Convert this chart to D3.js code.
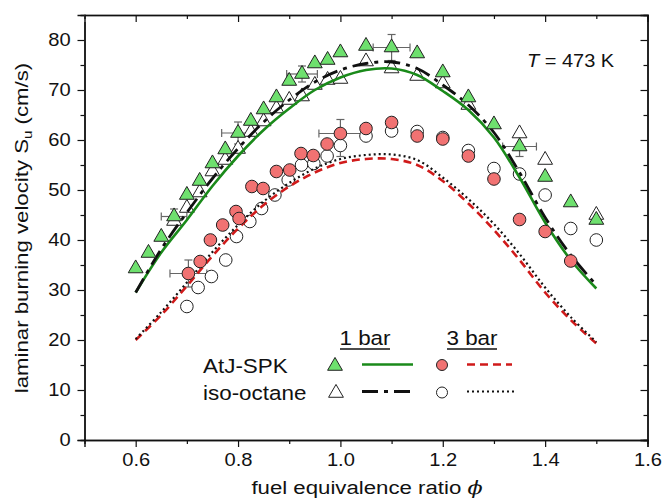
<!DOCTYPE html>
<html><head><meta charset="utf-8">
<script src="https://cdn.jsdelivr.net/npm/d3@7"></script>
<style>
html,body{margin:0;padding:0;background:#fff;}
text{font-family:"Liberation Sans",Arial,sans-serif;fill:#111;}
</style></head>
<body><svg id="chart" width="665" height="498"></svg>
<script>
// ---------- data ----------
const xTicks = [0.6, 0.8, 1.0, 1.2, 1.4, 1.6];
const xMinor = [0.7, 0.9, 1.1, 1.3, 1.5];
const yTicks = [0, 10, 20, 30, 40, 50, 60, 70, 80];
const yMinor = [5, 15, 25, 35, 45, 55, 65, 75];

// AtJ-SPK, 1 bar (filled green triangles)
const atj1Phi = [0.6, 0.625, 0.65, 0.675, 0.7, 0.725, 0.75, 0.775, 0.8, 0.825, 0.85, 0.875, 0.9, 0.925, 0.95, 0.975, 1.0, 1.05, 1.1, 1.15, 1.2, 1.25, 1.3, 1.35, 1.4, 1.45, 1.5];
const atj1Su  = [34.3, 37.4, 40.6, 44.7, 49.0, 51.8, 55.3, 58.1, 61.4, 63.8, 66.1, 68.5, 71.8, 73.2, 75.3, 76.0, 77.5, 78.8, 78.5, 77.3, 73.5, 68.5, 63.1, 58.7, 52.6, 47.5, 44.0];
// iso-octane, 1 bar (open triangles)
const iso1Phi = [0.675, 0.7, 0.725, 0.75, 0.775, 0.8, 0.825, 0.85, 0.875, 0.9, 0.925, 0.95, 0.975, 1.0, 1.05, 1.1, 1.15, 1.2, 1.25, 1.35, 1.4, 1.5];
const iso1Su  = [43.8, 46.4, 49.5, 53.7, 56.0, 58.2, 61.6, 63.7, 66.3, 68.0, 68.7, 71.0, 72.0, 72.2, 75.7, 74.3, 72.8, 71.3, 67.0, 61.3, 56.0, 45.0];
// AtJ-SPK, 3 bar (filled red circles)
const atj3Phi = [0.703, 0.726, 0.746, 0.77, 0.796, 0.802, 0.827, 0.849, 0.875, 0.901, 0.923, 0.947, 0.974, 1.0, 1.05, 1.1, 1.15, 1.2, 1.25, 1.3, 1.35, 1.4, 1.45];
const atj3Su  = [33.3, 35.7, 40.0, 43.0, 45.7, 44.3, 50.7, 50.3, 53.7, 54.0, 57.3, 56.9, 59.2, 61.3, 62.3, 63.5, 60.8, 60.2, 56.8, 52.2, 44.1, 41.7, 35.8];
// iso-octane, 3 bar (open circles)
const iso3Phi = [0.7, 0.722, 0.748, 0.776, 0.797, 0.823, 0.846, 0.872, 0.898, 0.924, 0.948, 0.974, 1.0, 1.05, 1.1, 1.15, 1.2, 1.25, 1.3, 1.35, 1.4, 1.45, 1.5];
const iso3Su  = [26.7, 30.5, 32.7, 36.0, 40.7, 43.7, 46.3, 49.0, 52.0, 55.0, 55.3, 56.8, 58.9, 60.8, 61.8, 61.7, 60.5, 57.9, 54.3, 53.2, 49.0, 42.3, 40.0];

// model curves
const modelPhi   = [0.6, 0.65, 0.7, 0.75, 0.8, 0.85, 0.9, 0.95, 1.0, 1.05, 1.1, 1.15, 1.2, 1.25, 1.3, 1.35, 1.4, 1.45, 1.5];
const atj1Model  = [29.5, 37.5, 44.0, 50.8, 56.8, 62.0, 66.3, 70.0, 72.5, 74.0, 74.3, 73.0, 69.8, 66.0, 60.5, 52.5, 43.5, 36.0, 30.3];
const iso1Model  = [29.5, 38.2, 45.5, 52.3, 58.3, 63.6, 68.0, 71.6, 74.0, 75.3, 75.6, 74.3, 71.0, 67.0, 61.5, 53.5, 44.5, 37.0, 31.0];
const atj3Model  = [20.0, 25.0, 30.8, 36.8, 42.3, 47.0, 50.7, 53.5, 55.4, 56.2, 56.2, 55.0, 51.8, 47.3, 42.0, 36.0, 29.5, 24.0, 19.3];
const iso3Model  = [20.2, 25.6, 31.5, 37.6, 43.0, 47.7, 51.4, 54.3, 56.2, 57.0, 57.1, 56.0, 52.5, 48.2, 43.2, 37.2, 30.5, 24.6, 19.6];

// error bars
const errPhi = [0.675, 0.8, 0.925, 1.1, 1.35, 0.703, 1.0, 1.0];
const errSu  = [44.7, 61.4, 73.2, 78.5, 58.7, 33.3, 61.3, 58.9];
const errDx  = [0.025, 0.032, 0.03, 0.036, 0.033, 0.036, 0.042, 0];
const errDy  = [1.5, 2.2, 1.6, 2.6, 2.0, 2.7, 2.8, 2.2];

const legendRows = ["AtJ-SPK", "iso-octane"];
const legendCols = ["1 bar", "3 bar"];

// ---------- drawing ----------
const svg = d3.select("#chart");
const x = d3.scaleLinear([0.5, 1.6], [84.5, 647.5]);
const y = d3.scaleLinear([0, 85], [440, 15]);

const C = {
  triFill: "#6ee06e", circFill: "#f17272",
  green: "#1a8a1a", red: "#d01a1a", black: "#111"
};
const SX = 1.15;

function label(g, px, py, str, size, anchor, sx) {
  return g.append("text")
    .attr("transform", `translate(${px},${py}) scale(${sx || SX},1)`)
    .attr("text-anchor", anchor || "start")
    .attr("font-size", size)
    .text(str);
}

// axes
const fmt = d3.format(".1f");
const gB = svg.append("g").attr("transform", "translate(0,440)")
  .call(d3.axisBottom(x).tickValues(xTicks).tickSize(7).tickPadding(7).tickFormat(fmt));
svg.append("g").attr("transform", "translate(0,440)")
  .call(d3.axisBottom(x).tickValues(xMinor).tickSize(4).tickFormat(""));
const gL = svg.append("g").attr("transform", "translate(84.5,0)")
  .call(d3.axisLeft(y).tickValues(yTicks).tickSize(7).tickPadding(5).tickFormat(d3.format("d")));
svg.append("g").attr("transform", "translate(84.5,0)")
  .call(d3.axisLeft(y).tickValues(yMinor).tickSize(4).tickFormat(""));
const gT = svg.append("g").attr("transform", "translate(0,15)")
  .call(d3.axisTop(x).tickValues(xTicks).tickSize(-7).tickFormat(""));
svg.append("g").attr("transform", "translate(0,15)")
  .call(d3.axisTop(x).tickValues(xMinor).tickSize(-4).tickFormat(""));
const gR = svg.append("g").attr("transform", "translate(647.5,0)")
  .call(d3.axisRight(y).tickValues(yTicks).tickSize(-7).tickFormat(""));
svg.append("g").attr("transform", "translate(647.5,0)")
  .call(d3.axisRight(y).tickValues(yMinor).tickSize(-4).tickFormat(""));

svg.selectAll(".domain").attr("stroke", "#111").attr("stroke-width", 1.4);
svg.selectAll(".tick line").attr("stroke", "#111").attr("stroke-width", 1.2);
gT.select(".domain").attr("stroke", "#666");
svg.selectAll(".tick text").attr("font-size", 17.5).attr("font-family", "Liberation Sans, Arial, sans-serif").attr("fill", "#111");
gB.selectAll(".tick text").attr("transform", `scale(${SX},1)`);
gL.selectAll(".tick text").attr("transform", `scale(${SX},1)`);

// axis titles
const xt = svg.append("text")
  .attr("transform", `translate(367,494) scale(1.17,1)`)
  .attr("text-anchor", "middle").attr("font-size", 19);
xt.append("tspan").text("fuel equivalence ratio ");
xt.append("tspan").attr("font-style", "italic").attr("font-family", "DejaVu Serif, serif").text("\u03D5");

const yt = svg.append("text")
  .attr("transform", `translate(28,228) rotate(-90) scale(1.17,1)`)
  .attr("text-anchor", "middle").attr("font-size", 19);
yt.append("tspan").text("laminar burning velocity S");
yt.append("tspan").attr("font-size", 13).attr("dy", 4).text("u");
yt.append("tspan").attr("dy", -4).text(" (cm/s)");

// annotation
const tt = svg.append("text")
  .attr("transform", `translate(527,66.5) scale(1.08,1)`)
  .attr("font-size", 18.5);
tt.append("tspan").attr("font-style", "italic").text("T");
tt.append("tspan").text(" = 473 K");

// markers helpers
const tri = d3.symbol(d3.symbolTriangle, 95);
function drawTris(data, fill) {
  svg.append("g").selectAll("path").data(data).join("path")
    .attr("transform", d => `translate(${x(d[0])},${y(d[1])})`)
    .attr("d", tri).attr("fill", fill).attr("stroke", "#222").attr("stroke-width", 1);
}
function drawCircs(data, fill) {
  svg.append("g").selectAll("circle").data(data).join("circle")
    .attr("cx", d => x(d[0])).attr("cy", d => y(d[1])).attr("r", 6.3)
    .attr("fill", fill).attr("stroke", "#222").attr("stroke-width", 1);
}
const zip = (a, b) => a.map((v, i) => [v, b[i]]);

// error bars
const eb = svg.append("g").attr("stroke", "#666").attr("stroke-width", 1.2).attr("fill", "none");
errPhi.forEach((p, i) => {
  const cx = x(p), cy = y(errSu[i]);
  if (errDx[i] > 0) {
    const x0 = x(p - errDx[i]), x1 = x(p + errDx[i]);
    eb.append("line").attr("x1", x0).attr("x2", x1).attr("y1", cy).attr("y2", cy);
    eb.append("line").attr("x1", x0).attr("x2", x0).attr("y1", cy - 4).attr("y2", cy + 4);
    eb.append("line").attr("x1", x1).attr("x2", x1).attr("y1", cy - 4).attr("y2", cy + 4);
  }
  const y0 = y(errSu[i] + errDy[i]), y1 = y(errSu[i] - errDy[i]);
  eb.append("line").attr("x1", cx).attr("x2", cx).attr("y1", y0).attr("y2", y1);
  eb.append("line").attr("x1", cx - 4).attr("x2", cx + 4).attr("y1", y0).attr("y2", y0);
  eb.append("line").attr("x1", cx - 4).attr("x2", cx + 4).attr("y1", y1).attr("y2", y1);
});

// open markers
drawTris(zip(iso1Phi, iso1Su), "#fff");
drawCircs(zip(iso3Phi, iso3Su), "#fff");

// model lines
const line = d3.line().x(d => x(d[0])).y(d => y(d[1])).curve(d3.curveCatmullRom.alpha(0.5));
const styles = [
  { data: atj3Model, stroke: C.red, w: 2.6, dash: "8,5" },
  { data: iso3Model, stroke: C.black, w: 2.2, dash: "2,3" },
  { data: atj1Model, stroke: C.green, w: 2.6, dash: null },
  { data: iso1Model, stroke: C.black, w: 2.8, dash: "16,6,4,6" }
];
styles.forEach(s => {
  svg.append("path").attr("d", line(zip(modelPhi, s.data)))
    .attr("fill", "none").attr("stroke", s.stroke).attr("stroke-width", s.w)
    .attr("stroke-dasharray", s.dash);
});

// filled markers
drawTris(zip(atj1Phi, atj1Su), C.triFill);
drawCircs(zip(atj3Phi, atj3Su), C.circFill);

// legend
const lg = svg.append("g");
label(lg, 365, 345, legendCols[0], 19.5, "middle");
label(lg, 472, 345, legendCols[1], 19.5, "middle");
lg.append("line").attr("x1", 340).attr("x2", 390).attr("y1", 349).attr("y2", 349).attr("stroke", "#111").attr("stroke-width", 1.3);
lg.append("line").attr("x1", 447).attr("x2", 497).attr("y1", 349).attr("y2", 349).attr("stroke", "#111").attr("stroke-width", 1.3);
label(lg, 203, 373, legendRows[0], 19.5, "start");
label(lg, 203, 400, legendRows[1], 19.5, "start");
lg.append("path").attr("transform", "translate(335,366)").attr("d", tri).attr("fill", C.triFill).attr("stroke", "#222");
lg.append("path").attr("transform", "translate(336,393)").attr("d", tri).attr("fill", "#fff").attr("stroke", "#222");
lg.append("circle").attr("cx", 442).attr("cy", 365).attr("r", 5.5).attr("fill", C.circFill).attr("stroke", "#222");
lg.append("circle").attr("cx", 442).attr("cy", 392.5).attr("r", 5.5).attr("fill", "#fff").attr("stroke", "#222");
[[362, 413, 364.5, styles[2]], [467, 512, 364.5, styles[0]], [362, 413, 391.5, styles[3]], [467, 517, 391.5, styles[1]]].forEach(([a, b, yy, s]) => {
  lg.append("line").attr("x1", a).attr("x2", b).attr("y1", yy).attr("y2", yy)
    .attr("stroke", s.stroke).attr("stroke-width", s.w).attr("stroke-dasharray", s.dash);
});
</script></body></html>
